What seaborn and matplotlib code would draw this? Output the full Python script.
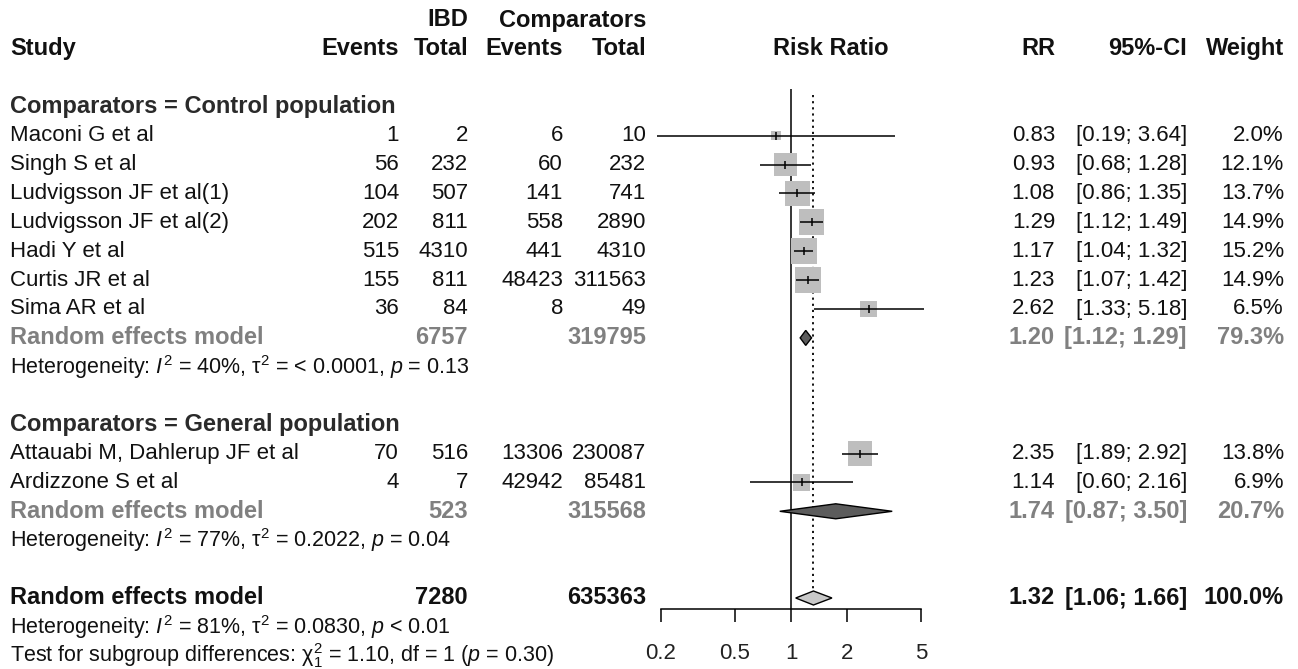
import numpy as np
import pandas as pd
import matplotlib
matplotlib.use("Agg")
import matplotlib.pyplot as plt
import seaborn as sns

sns.set_theme(style="white")
plt.rcParams["font.family"] = ["Liberation Sans", "DejaVu Sans"]
plt.rcParams["mathtext.fontset"] = "custom"
plt.rcParams["mathtext.rm"] = "Liberation Sans"
plt.rcParams["mathtext.it"] = "Liberation Sans:italic"
plt.rcParams["mathtext.bf"] = "Liberation Sans:bold"

# study level data
studies = ["Maconi G et al", "Singh S et al", "Ludvigsson JF et al(1)",
           "Ludvigsson JF et al(2)", "Hadi Y et al", "Curtis JR et al",
           "Sima AR et al", "Attauabi M, Dahlerup JF et al", "Ardizzone S et al"]
group = [0, 0, 0, 0, 0, 0, 0, 1, 1]
ev_ibd = [1, 56, 104, 202, 515, 155, 36, 70, 4]
n_ibd = [2, 232, 507, 811, 4310, 811, 84, 516, 7]
ev_cmp = [6, 60, 141, 558, 441, 48423, 8, 13306, 42942]
n_cmp = [10, 232, 741, 2890, 4310, 311563, 49, 230087, 85481]
rr = [0.83, 0.93, 1.08, 1.29, 1.17, 1.23, 2.62, 2.35, 1.14]
ci_lo = [0.19, 0.68, 0.86, 1.12, 1.04, 1.07, 1.33, 1.89, 0.60]
ci_hi = [3.64, 1.28, 1.35, 1.49, 1.32, 1.42, 5.18, 2.92, 2.16]
weight = [2.0, 12.1, 13.7, 14.9, 15.2, 14.9, 6.5, 13.8, 6.9]

# subgroup pooled results
groups = ["Comparators = Control population", "Comparators = General population"]
grp_n_ibd = [6757, 523]
grp_n_cmp = [319795, 315568]
grp_rr = [1.20, 1.74]
grp_lo = [1.12, 0.87]
grp_hi = [1.29, 3.50]
grp_weight = [79.3, 20.7]
grp_het = [r"Heterogeneity: $I^2$ = 40%, $\mathrm{\tau}^2$ = < 0.0001, $p$ = 0.13",
           r"Heterogeneity: $I^2$ = 77%, $\mathrm{\tau}^2$ = 0.2022, $p$ = 0.04"]

# overall pooled result
tot_n_ibd = 7280
tot_n_cmp = 635363
tot_rr, tot_lo, tot_hi, tot_weight = 1.32, 1.06, 1.66, 100.0
tot_het = r"Heterogeneity: $I^2$ = 81%, $\mathrm{\tau}^2$ = 0.0830, $p$ < 0.01"
tot_test = r"Test for subgroup differences: $\mathrm{\chi}^2_1$ = 1.10, df = 1 ($p$ = 0.30)"

ticks = [0.2, 0.5, 1, 2, 5]

# layout (pixels)
W, H = 1298, 669
Y0, DY = 20, 28.9
AXIS_Y = 609
FS, FS_B, FS_SMALL = 16, 17, 15.5
GREY_TXT = "#808080"
col_x = {"ev_ibd": 399, "n_ibd": 468, "ev_cmp": 563, "n_cmp": 646,
         "rr": 1055, "ci": 1187, "w": 1284}


def row_y(r):
    return Y0 + DY * r


df = pd.DataFrame({"study": studies, "group": group, "ev_ibd": ev_ibd, "n_ibd": n_ibd,
                   "ev_cmp": ev_cmp, "n_cmp": n_cmp, "rr": rr, "lo": ci_lo,
                   "hi": ci_hi, "weight": weight})

# assign rows
r = 3
study_rows, grp_rows, het_rows, head_rows = [], [], [], []
for g in range(len(groups)):
    head_rows.append(r)
    r += 1
    for _ in range(int((df["group"] == g).sum())):
        study_rows.append(r)
        r += 1
    grp_rows.append(r)
    het_rows.append(r + 1)
    r += 3
tot_row = r
df["y"] = [row_y(k) for k in study_rows]

fig = plt.figure(figsize=(W / 100, H / 100), dpi=100)
ax_t = fig.add_axes([0, 0, 1, 1])
ax_t.set_xlim(0, W)
ax_t.set_ylim(H, 0)
ax_t.axis("off")

# forest panel: log scale, 186 px per decade, 0.2 at x=661
px_dec = 186.0
fx0, fx1 = 640, 1000
xl = 10 ** (np.log10(0.2) - (661 - fx0) / px_dec)
xr = 10 ** (np.log10(0.2) + (fx1 - 661) / px_dec)
ax_f = fig.add_axes([fx0 / W, 0, (fx1 - fx0) / W, 1])
ax_f.patch.set_alpha(0)
ax_f.set_xscale("log")
ax_f.set_xlim(xl, xr)
ax_f.set_ylim(H, 0)

# reference lines
ax_f.vlines(1, row_y(2.4), AXIS_Y, color="black", lw=1.1, zorder=1)
ax_f.vlines(tot_rr, row_y(2.6), row_y(tot_row) - 7, color="black", lw=1.3,
            linestyles=(0, (1.2, 2.2)), zorder=1)

# study squares, area proportional to weight
sns.scatterplot(data=df, x="rr", y="y", size="weight",
                sizes=(23 * min(weight), 23 * max(weight)),
                marker="s", color="#bebebe", edgecolor="none", linewidth=0, legend=False,
                ax=ax_f, zorder=2)
ax_f.hlines(df["y"], df["lo"], df["hi"], color="black", lw=1.1, zorder=3)
ax_f.scatter(df["rr"], df["y"], marker="|", s=40, color="black", linewidths=1.1, zorder=4)

# diamonds
dh = 7.5
for g in range(len(groups)):
    yy = row_y(grp_rows[g])
    ax_f.fill([grp_lo[g], grp_rr[g], grp_hi[g], grp_rr[g]], [yy, yy - dh, yy, yy + dh],
              facecolor="#5c5c5c", edgecolor="black", lw=1, zorder=3)
yy = row_y(tot_row)
ax_f.fill([tot_lo, tot_rr, tot_hi, tot_rr], [yy, yy - 7, yy, yy + 7],
          facecolor="#c8c8c8", edgecolor="black", lw=1, zorder=3)

# x axis
for s in ["top", "left", "right"]:
    ax_f.spines[s].set_visible(False)
ax_f.spines["bottom"].set_position(("data", AXIS_Y))
ax_f.spines["bottom"].set_bounds(min(ticks), max(ticks))
ax_f.spines["bottom"].set_color("black")
ax_f.spines["bottom"].set_linewidth(1.1)
ax_f.set_xticks(ticks)
ax_f.set_xticklabels([f"{t:g}" for t in ticks])
ax_f.minorticks_off()
ax_f.tick_params(axis="x", direction="out", length=9.5, width=1.1, color="black",
                 pad=15, labelsize=FS, labelcolor="#222222", bottom=True)
ax_f.set_yticks([])
ax_f.set_xlabel("")
ax_f.set_ylabel("")


def txt(x, y, s, ha="right", bold=False, color="#111111", size=None):
    if size is None:
        size = FS_B if bold else FS
    ax_t.text(x, y, s, ha=ha, va="center", fontsize=size, color=color,
              fontweight="bold" if bold else "normal")


# column headers
txt(col_x["n_ibd"], row_y(0), "IBD", bold=True)
txt(col_x["n_cmp"], row_y(0), "Comparators", bold=True)
txt(10, row_y(1), "Study", ha="left", bold=True)
txt(col_x["ev_ibd"], row_y(1), "Events", bold=True)
txt(col_x["n_ibd"], row_y(1), "Total", bold=True)
txt(col_x["ev_cmp"], row_y(1), "Events", bold=True)
txt(col_x["n_cmp"], row_y(1), "Total", bold=True)
txt(831, row_y(1), "Risk Ratio", ha="center", bold=True)
txt(col_x["rr"], row_y(1), "RR", bold=True)
txt(col_x["ci"], row_y(1), "95%-CI", bold=True)
txt(col_x["w"], row_y(1), "Weight", bold=True)

# study rows
for _, row in df.iterrows():
    y = row["y"]
    txt(10, y, row["study"], ha="left")
    txt(col_x["ev_ibd"], y, f"{row['ev_ibd']}")
    txt(col_x["n_ibd"], y, f"{row['n_ibd']}")
    txt(col_x["ev_cmp"], y, f"{row['ev_cmp']}")
    txt(col_x["n_cmp"], y, f"{row['n_cmp']}")
    txt(col_x["rr"], y, f"{row['rr']:.2f}")
    txt(col_x["ci"], y, f"[{row['lo']:.2f}; {row['hi']:.2f}]")
    txt(col_x["w"], y, f"{row['weight']:.1f}%")

# subgroup rows
for g in range(len(groups)):
    txt(10, row_y(head_rows[g]), groups[g], ha="left", bold=True, color="#2a2a2a")
    y = row_y(grp_rows[g])
    txt(10, y, "Random effects model", ha="left", bold=True, color=GREY_TXT)
    txt(col_x["n_ibd"], y, f"{grp_n_ibd[g]}", bold=True, color=GREY_TXT)
    txt(col_x["n_cmp"], y, f"{grp_n_cmp[g]}", bold=True, color=GREY_TXT)
    txt(col_x["rr"], y, f"{grp_rr[g]:.2f}", bold=True, color=GREY_TXT)
    txt(col_x["ci"], y, f"[{grp_lo[g]:.2f}; {grp_hi[g]:.2f}]", bold=True, color=GREY_TXT)
    txt(col_x["w"], y, f"{grp_weight[g]:.1f}%", bold=True, color=GREY_TXT)
    txt(10, row_y(het_rows[g]), grp_het[g], ha="left", size=FS_SMALL)

# overall rows
y = row_y(tot_row)
txt(10, y, "Random effects model", ha="left", bold=True)
txt(col_x["n_ibd"], y, f"{tot_n_ibd}", bold=True)
txt(col_x["n_cmp"], y, f"{tot_n_cmp}", bold=True)
txt(col_x["rr"], y, f"{tot_rr:.2f}", bold=True)
txt(col_x["ci"], y, f"[{tot_lo:.2f}; {tot_hi:.2f}]", bold=True)
txt(col_x["w"], y, f"{tot_weight:.1f}%", bold=True)
txt(10, row_y(tot_row + 1), tot_het, ha="left", size=FS_SMALL)
txt(10, row_y(tot_row + 2), tot_test, ha="left", size=FS_SMALL)

fig.savefig("out.png", dpi=100)
